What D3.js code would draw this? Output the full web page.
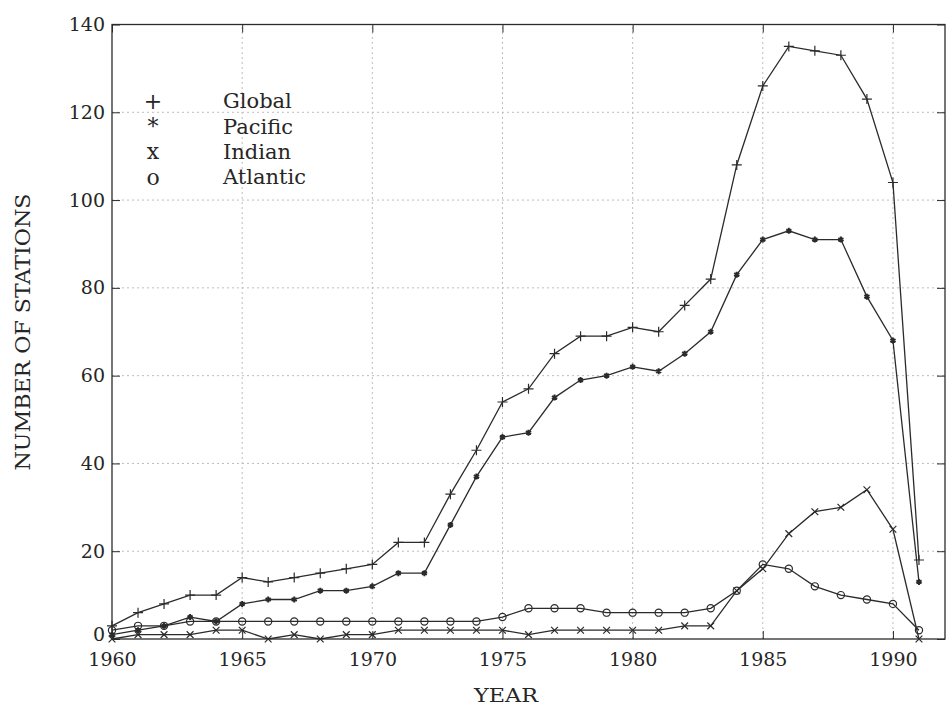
<!DOCTYPE html>
<html>
<head>
<meta charset="utf-8">
<script src="https://cdn.jsdelivr.net/npm/d3@7/dist/d3.min.js"></script>
<style>
  html, body { margin: 0; padding: 0; background: #fff; }
  svg { display: block; }
  text { font-family: "DejaVu Serif", "Liberation Serif", serif; fill: #262626; }
</style>
</head>
<body>
<svg id="chart" width="946" height="708"></svg>
<script>
// Station counts per year, by ocean basin
const years = d3.range(1960, 1992);
const globalCounts   = [3, 6, 8, 10, 10, 14, 13, 14, 15, 16, 17, 22, 22, 33, 43, 54, 57, 65, 69, 69, 71, 70, 76, 82, 108, 126, 135, 134, 133, 123, 104, 18];
const pacificCounts  = [1, 2, 3, 5, 4, 8, 9, 9, 11, 11, 12, 15, 15, 26, 37, 46, 47, 55, 59, 60, 62, 61, 65, 70, 83, 91, 93, 91, 91, 78, 68, 13];
const indianCounts   = [0, 1, 1, 1, 2, 2, 0, 1, 0, 1, 1, 2, 2, 2, 2, 2, 1, 2, 2, 2, 2, 2, 3, 3, 11, 16, 24, 29, 30, 34, 25, 0];
const atlanticCounts = [2, 3, 3, 4, 4, 4, 4, 4, 4, 4, 4, 4, 4, 4, 4, 5, 7, 7, 7, 6, 6, 6, 6, 7, 11, 17, 16, 12, 10, 9, 8, 2];

const seriesNames = ["Global", "Pacific", "Indian", "Atlantic"];
const seriesSymbols = ["+", "*", "x", "o"];
const xTicks = [1960, 1965, 1970, 1975, 1980, 1985, 1990];
const yTicks = [0, 20, 40, 60, 80, 100, 120, 140];

const series = [
  { name: seriesNames[0], sym: "plus", values: globalCounts },
  { name: seriesNames[1], sym: "star", values: pacificCounts },
  { name: seriesNames[2], sym: "cross", values: indianCounts },
  { name: seriesNames[3], sym: "circle", values: atlanticCounts }
];

const svg = d3.select("#chart");
const ink = "#2b2b2b";

const x = d3.scaleLinear().domain([1960, 1992]).range([112, 945]);
const y = d3.scaleLinear().domain([0, 140]).range([639, 24.5]);

const x0 = x.range()[0], x1 = x.range()[1];
const y0 = y.range()[0], y1 = y.range()[1];

// dotted grid
const grid = svg.append("g").attr("class", "grid")
  .attr("stroke", "#bdbdbd").attr("stroke-width", 1).attr("stroke-dasharray", "2,3");
grid.selectAll("line.gx").data(xTicks.slice(1)).join("line")
  .attr("x1", d => x(d)).attr("x2", d => x(d)).attr("y1", y0).attr("y2", y1);
grid.selectAll("line.gy").data(yTicks.slice(1, -1)).join("line")
  .attr("y1", d => y(d)).attr("y2", d => y(d)).attr("x1", x0).attr("x2", x1);

// axes with inward ticks
const tickLen = 8;
const axB = svg.append("g").attr("transform", `translate(0,${y0})`)
  .call(d3.axisBottom(x).tickValues(xTicks).tickFormat(d3.format("d"))
    .tickSizeInner(-tickLen).tickSizeOuter(0).tickPadding(14));
const axT = svg.append("g").attr("transform", `translate(0,${y1})`)
  .call(d3.axisTop(x).tickValues(xTicks).tickFormat("").tickSizeInner(-tickLen).tickSizeOuter(0));
const axL = svg.append("g").attr("transform", `translate(${x0},0)`)
  .call(d3.axisLeft(y).tickValues(yTicks).tickSizeInner(-tickLen).tickSizeOuter(0).tickPadding(7));
const axR = svg.append("g").attr("transform", `translate(${x1},0)`)
  .call(d3.axisRight(y).tickValues(yTicks).tickFormat("").tickSizeInner(-tickLen).tickSizeOuter(0));

[axB, axT, axL, axR].forEach(a => {
  a.select(".domain").remove();
  a.selectAll(".tick line").attr("stroke", ink).attr("stroke-width", 1);
  a.selectAll(".tick text").attr("font-size", 19).attr("fill", "#262626")
    .attr("font-family", "'DejaVu Serif', serif");
});
axB.selectAll(".tick text").attr("dy", "0.71em");
// the zero label sits a little high so it clears the year below it
axL.selectAll(".tick").filter(d => d === 0).select("text").attr("dy", "0.1em");

// frame
svg.append("rect")
  .attr("x", x0).attr("y", y1).attr("width", x1 - x0).attr("height", y0 - y1)
  .attr("fill", "none").attr("stroke", ink).attr("stroke-width", 1.3);

// marker shapes
function markerPath(sym, r) {
  const p = d3.path();
  if (sym === "plus") {
    p.moveTo(-r, 0); p.lineTo(r, 0); p.moveTo(0, -r); p.lineTo(0, r);
  } else if (sym === "cross") {
    const s = r * 0.75;
    p.moveTo(-s, -s); p.lineTo(s, s); p.moveTo(-s, s); p.lineTo(s, -s);
  } else if (sym === "star") {
    for (let k = 0; k < 3; k++) {
      const a = Math.PI / 2 + k * Math.PI / 3;
      p.moveTo(-r * Math.cos(a), -r * Math.sin(a)); p.lineTo(r * Math.cos(a), r * Math.sin(a));
    }
  } else {
    p.moveTo(r, 0); p.arc(0, 0, r, 0, 2 * Math.PI);
  }
  return p.toString();
}
const markerSize = { plus: 5, star: 3, cross: 4.5, circle: 3.6 };

const line = d3.line().x((d, i) => x(years[i])).y(d => y(d));

const plot = svg.append("g");
series.forEach(s => {
  const g = plot.append("g");
  g.append("path").datum(s.values).attr("d", line)
    .attr("fill", "none").attr("stroke", ink).attr("stroke-width", 1.3);
  g.selectAll("path.m").data(s.values).join("path").attr("class", "m")
    .attr("transform", (d, i) => `translate(${x(years[i])},${y(d)})`)
    .attr("d", markerPath(s.sym, markerSize[s.sym]))
    .attr("fill", "none").attr("stroke", ink).attr("stroke-width", s.sym === "star" ? 2 : 1.2);
});

// legend
const legend = svg.append("g");
seriesNames.forEach((name, i) => {
  const cy = 101 + i * 25.3;
  legend.append("text").attr("x", 153).attr("y", cy).attr("dy", "0.35em")
    .attr("text-anchor", "middle").attr("font-size", 22).text(seriesSymbols[i]);
  legend.append("text").attr("x", 223).attr("y", cy).attr("dy", "0.35em")
    .attr("font-size", 21).text(name);
});

// axis titles
svg.append("text").attr("x", 506).attr("y", 702).attr("text-anchor", "middle")
  .attr("font-size", 19).attr("textLength", 64).attr("lengthAdjust", "spacingAndGlyphs").text("YEAR");
svg.append("text").attr("transform", "translate(30,332) rotate(-90)")
  .attr("text-anchor", "middle").attr("font-size", 20)
  .attr("textLength", 277).attr("lengthAdjust", "spacingAndGlyphs").text("NUMBER OF STATIONS");
</script>
</body>
</html>
